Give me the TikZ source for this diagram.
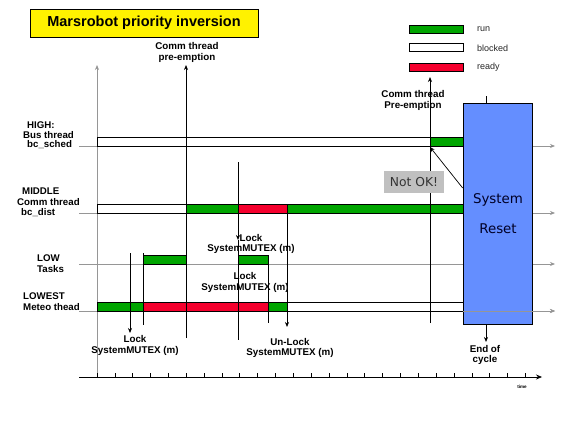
\documentclass[tikz,border=0pt]{standalone}
\usepackage{fontspec}
\setmainfont{Liberation Sans}
\newfontfamily\vfont{DejaVu Sans}
\usetikzlibrary{arrows.meta}
\definecolor{rungreen}{RGB}{0,165,0}
\definecolor{readyred}{RGB}{245,0,45}
\definecolor{resetblue}{RGB}{100,142,255}
\definecolor{lanegray}{RGB}{150,150,150}
\definecolor{notokgray}{RGB}{192,192,192}
\begin{document}
\begin{tikzpicture}[x=1pt,y=-1pt,
  lane/.style={draw=lanegray,line width=0.7pt},
  lanearrow/.style={lane,-{Stealth[length=5pt,width=4pt]}},
  runbar/.style={draw=black,line width=0.5pt,fill=rungreen},
  blockbar/.style={draw=black,line width=0.5pt,fill=white},
  readybar/.style={draw=black,line width=0.5pt,fill=readyred},
  evline/.style={draw=black,line width=0.7pt},
  evarrow/.style={evline,-{Stealth[length=5pt,width=4pt]}},
  lbl/.style={font=\bfseries\fontsize{9.8}{10.8}\selectfont,inner sep=0pt,align=center},
  lanelbl/.style={font=\bfseries\fontsize{9.7}{10.8}\selectfont,inner sep=0pt,anchor=west},
  leglbl/.style={font=\fontsize{9}{10}\selectfont,inner sep=0pt,anchor=west,text=black!85}
]
\useasboundingbox (0,0) rectangle (580,420);

% title
\node[draw=black,line width=0.7pt,fill=yellow,minimum width=228pt,minimum height=28pt,
  font=\bfseries\fontsize{14.5}{16}\selectfont] (title) at (144,23) {Marsrobot priority inversion};

% legend
\node[runbar,minimum width=54pt,minimum height=8pt,inner sep=0pt] (legrun) at (436,29) {};
\node[blockbar,minimum width=54pt,minimum height=8pt,inner sep=0pt] (legblk) at (436,47.5) {};
\node[readybar,minimum width=54pt,minimum height=8pt,inner sep=0pt] (legrdy) at (436,67.5) {};
\node[leglbl] (trun) at (477,29) {run};
\node[leglbl] (tblk) at (477,48) {blocked};
\node[leglbl] (trdy) at (477,67) {ready};

% coordinates
\coordinate (ytop) at (97,65);
\coordinate (ybot) at (97,377);
\coordinate (tstart) at (79,377);
\coordinate (tend) at (542,377);

% vertical gray axis
\draw[lanearrow] (ybot) -- (ytop);

% lanes
\foreach \y/\n in {146/h,213/m,264/l,311/w}{
  \coordinate (\n0) at (79,\y);
  \coordinate (\n1) at (555,\y);
  \draw[lanearrow] (\n0) -- (\n1);
}

% time axis
\draw[evline,-{Stealth[length=6pt,width=5pt]}] (tstart) -- (tend);
\foreach \k in {0,...,24}{
  \draw[evline] ({97+\k*17.85},377) -- ({97+\k*17.85},372.5);
}
\node[font=\bfseries\fontsize{4.6}{5}\selectfont,inner sep=0pt] (time) at (522,387) {time};

% HIGH bars
\draw[blockbar] (97,137) rectangle (430,146);
\draw[runbar] (430,137) rectangle (463,146);
% MIDDLE bars
\draw[blockbar] (97,204) rectangle (186,213);
\draw[runbar] (186,204) rectangle (238,213);
\draw[readybar] (238,204) rectangle (287,213);
\draw[runbar] (287,204) rectangle (463,213);
% LOW bars
\draw[runbar] (143,255) rectangle (186,264);
\draw[runbar] (238,255) rectangle (268,264);
% LOWEST bars
\draw[runbar] (97,302) rectangle (143,311);
\draw[readybar] (143,302) rectangle (268,311);
\draw[runbar] (268,302) rectangle (287,311);
\draw[blockbar] (287,302) rectangle (463,311);

% lane labels
\node[lanelbl] (high1) at (27,125) {HIGH:};
\node[lanelbl] (high2) at (23,135) {Bus thread};
\node[lanelbl] (high3) at (27,145) {bc\_sched};
\node[lanelbl] (mid1) at (22,191) {MIDDLE};
\node[lanelbl] (mid2) at (17,202) {Comm thread};
\node[lanelbl] (mid3) at (21,213) {bc\_dist};
\node[lanelbl] (low1) at (37,258) {LOW};
\node[lanelbl] (low2) at (37,269) {Tasks};
\node[lanelbl] (lw1) at (23,296) {LOWEST};
\node[lanelbl] (lw2) at (23,307) {Meteo thead};

% event markers
\coordinate (a1) at (186,338); \coordinate (a2) at (186,65);
\draw[evarrow] (a1) -- (a2);
\node[lbl] (commpre) at (187,52.5) {Comm thread\\pre-emption};

\coordinate (b1) at (238,162); \coordinate (b2) at (238,240); \coordinate (b3) at (238,340);
\draw[evarrow] (b1) -- (b2);
\draw[evline] (b2) -- (b3);
\node[lbl] (lock2) at (251,244) {Lock\\SystemMUTEX (m)};

\coordinate (c1) at (268,256); \coordinate (c2) at (268,323);
\draw[evline] (c1) -- (c2);
\node[lbl] (lock3) at (245,282.5) {Lock\\SystemMUTEX (m)};

\coordinate (d1) at (287,204); \coordinate (d2) at (287,327);
\draw[evarrow] (d1) -- (d2);
\node[lbl] (unlock) at (290,348) {Un-Lock\\SystemMUTEX (m)};

\coordinate (e1) at (430,323); \coordinate (e2) at (430,77);
\draw[evarrow] (e1) -- (e2);
\node[lbl] (commpre2) at (413,100.5) {Comm thread\\Pre-emption};

\coordinate (f1) at (143,253); \coordinate (f2) at (143,325);
\draw[evline] (f1) -- (f2);

\coordinate (g1) at (130,253); \coordinate (g2) at (130,333);
\draw[evarrow] (g1) -- (g2);
\node[lbl] (lock1) at (135,345.5) {Lock\\SystemMUTEX (m)};

% System reset
\node[draw=black,line width=0.7pt,fill=resetblue,minimum width=69pt,minimum height=221pt,inner sep=0pt] (reset) at (497.5,213.5) {};
\node[font=\vfont\fontsize{13.4}{15}\selectfont,inner sep=0pt,text=black!85!blue] (sys) at (498,200) {System};
\node[font=\vfont\fontsize{13.4}{15}\selectfont,inner sep=0pt,text=black!85!blue] (rst) at (498,229) {Reset};
\draw[lane] (reset.west |- w0) -- (463,311);
\draw[lanearrow] (463,311) -- (w1);

\coordinate (s1) at (486,96);
\draw[evline] (s1) -- (reset.north -| s1);
\coordinate (eoc) at (486,342);
\draw[evarrow] (reset.south -| eoc) -- (eoc);
\node[lbl] (endc) at (485,355) {End of\\cycle};

% Not OK
\node[fill=notokgray,minimum width=60pt,minimum height=22pt,inner sep=0pt,
  font=\vfont\fontsize{12.3}{14}\selectfont,text=black!80] (notok) at (414,182) {Not OK!};
\coordinate (nk) at (430,147);
\draw[evarrow] (reset.west |- 0,188) -- (nk);
\end{tikzpicture}
\end{document}
